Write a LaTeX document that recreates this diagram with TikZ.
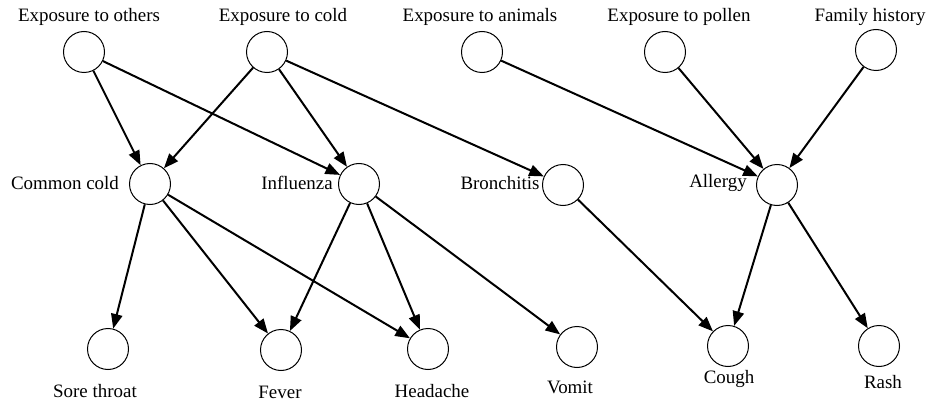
\documentclass[tikz,border=0pt]{standalone}
\usepackage{fontspec}
\setmainfont{Liberation Serif}
\usetikzlibrary{arrows.meta}
\begin{document}
\begin{tikzpicture}[x = 0.75pt, y = -0.75pt, font = \fontsize{14.2}{17}\selectfont,
        var/.style = {circle, draw, line width = 0.75pt, minimum size = 30.75pt, inner sep = 0pt},
        edge/.style = {-{Triangle[length = 11pt, width = 8.5pt]}, line width = 1.5pt}]
        \useasboundingbox (0, 0) rectangle (929, 403);

        \node[var] (others) at (84, 52) {};
        \node[var] (cold) at (267, 52) {};
        \node[var] (animals) at (482, 52) {};
        \node[var] (pollen) at (665, 52) {};
        \node[var] (family) at (876, 50) {};
        \node (others-lbl) at (89, 17) {Exposure to others};
        \node (cold-lbl) at (283, 17) {Exposure to cold};
        \node (animals-lbl) at (480, 17) {Exposure to animals};
        \node (pollen-lbl) at (679, 17) {Exposure to pollen};
        \node (family-lbl) at (870, 17) {Family history};

        \node[var] (common) at (150, 184) {};
        \node[var] (flu) at (359, 184) {};
        \node[var] (bronch) at (563, 185) {};
        \node[var] (allergy) at (777, 185) {};
        \node (common-lbl) at (65, 183) {Common cold};
        \node (flu-lbl) at (297, 183) {Influenza};
        \node (bronch-lbl) at (500, 183) {Bronchitis};
        \node (allergy-lbl) at (718, 183) {Allergy};

        \node[var] (throat) at (108, 349) {};
        \node[var] (fever) at (281, 350) {};
        \node[var] (headache) at (428, 349) {};
        \node[var] (vomit) at (577, 347) {};
        \node[var] (cough) at (728, 346) {};
        \node[var] (rash) at (879, 346) {};
        \node (throat-lbl) at (95, 391) {Sore throat};
        \node (fever-lbl) at (280, 392) {Fever};
        \node (headache-lbl) at (432, 391) {Headache};
        \node (vomit-lbl) at (570, 387) {Vomit};
        \node (cough-lbl) at (729, 379) {Cough};
        \node (rash-lbl) at (883, 382) {Rash};

        \draw[edge] (others) -- (common);
        \draw[edge] (others) -- (flu);
        \draw[edge] (cold) -- (common);
        \draw[edge] (cold) -- (flu);
        \draw[edge] (cold) -- (bronch);
        \draw[edge] (animals) -- (allergy);
        \draw[edge] (pollen) -- (allergy);
        \draw[edge] (family) -- (allergy);

        \draw[edge] (common) -- (throat);
        \draw[edge] (common) -- (fever);
        \draw[edge] (common) -- (headache);
        \draw[edge] (flu) -- (fever);
        \draw[edge] (flu) -- (headache);
        \draw[edge] (flu) -- (vomit);
        \draw[edge] (bronch) -- (cough);
        \draw[edge] (allergy) -- (cough);
        \draw[edge] (allergy) -- (rash);
    \end{tikzpicture}
\end{document}
